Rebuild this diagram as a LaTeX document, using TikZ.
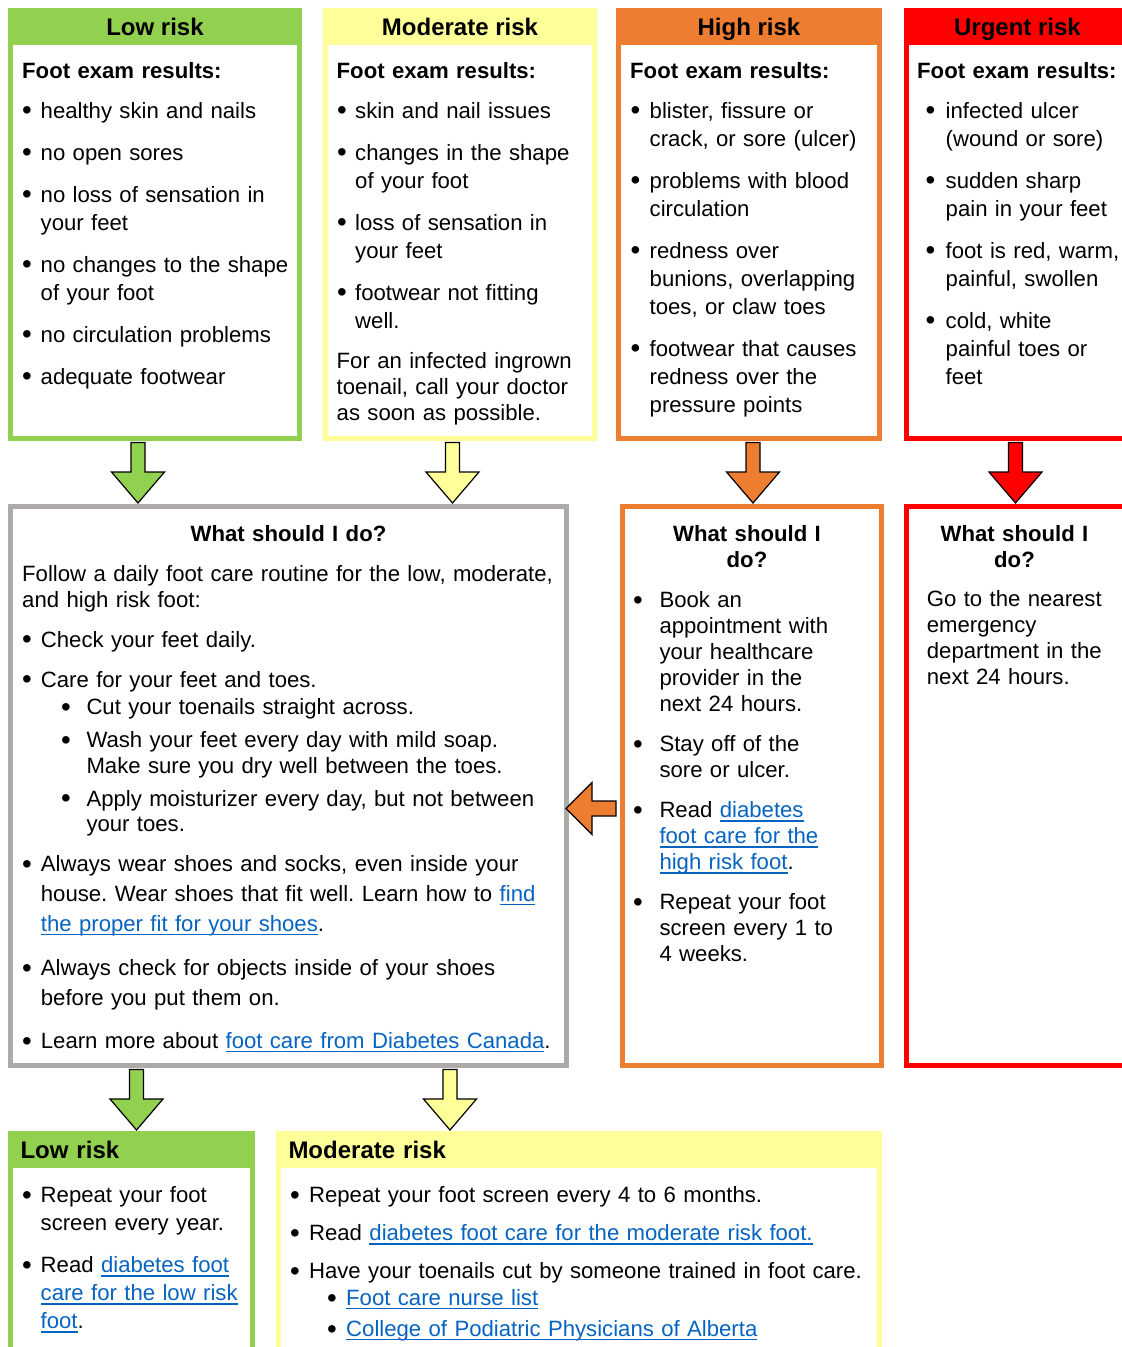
\documentclass[tikz,border=0pt]{standalone}
\usepackage{fontspec}
\usepackage{graphicx}
\setmainfont{Liberation Sans}
\usetikzlibrary{calc}
\frenchspacing
\definecolor{lowgreen}{HTML}{92D050}
\definecolor{modyellow}{HTML}{FFFF99}
\definecolor{highorange}{HTML}{ED7D31}
\definecolor{urgred}{HTML}{FF0000}
\definecolor{greyline}{HTML}{AEAAAA}
\definecolor{linkblue}{HTML}{0563C1}
\newlength{\bulpos}
\newlength{\txtpos}
\newcommand{\setind}[2]{\setlength{\bulpos}{#1}\setlength{\txtpos}{#2}}
\newcommand{\bigdot}{\raisebox{-0.08em}{\scalebox{1.25}{\textbullet}}}
\newcommand{\bul}[1]{\noindent\hangindent=\txtpos\hangafter=1\hbox to\txtpos{\hskip\bulpos\bigdot\hfil}{\let\\\newline#1}\par}
\newcommand{\txtpar}[1]{\noindent{\let\\\newline#1}\par}
\newcommand{\lnk}[1]{\textcolor{linkblue}{\setbox0=\hbox{#1}\rlap{\rule[-4pt]{\wd0}{1.6pt}}\box0}}
\tikzset{
  riskbox/.style={draw=#1,line width=5pt,rectangle,inner sep=0pt,outer sep=2.5pt,anchor=north west},
  band/.style={fill=#1,rectangle,inner sep=0pt,outer sep=0pt,anchor=north west,minimum height=37pt,
    font=\fontsize{24}{28}\selectfont\bfseries,text height=17.2pt,text depth=0pt},
  body/.style={anchor=base west,inner sep=0pt,text width=700pt,align=left,
    font=\fontsize{22.15}{28}\selectfont,execute at begin node={\setlength{\parskip}{#1}}},
  body/.default=14pt,
  whathead/.style={anchor=base,inner sep=0pt,text width=240pt,align=center,
    font=\fontsize{22.15}{26}\selectfont\bfseries},
  blockdown/.style={fill=#1,draw=black,line width=1.2pt,to path={
    ($(\tikztostart)+(-7,1.5)$) -- ($(\tikztotarget)+(-7,-32)$) -- ($(\tikztotarget)+(-26.5,-32)$)
    -- ($(\tikztotarget)+(0,-1)$) -- ($(\tikztotarget)+(26.5,-32)$) -- ($(\tikztotarget)+(7,-32)$)
    -- ($(\tikztostart)+(7,1.5)$) -- cycle}},
  blockleft/.style={fill=#1,draw=black,line width=1.2pt,to path={
    ($(\tikztostart)+(-4,-7.5)$) -- ($(\tikztotarget)+(23,-7.5)$) -- ($(\tikztotarget)+(23,-26)$)
    -- ($(\tikztotarget)+(-3,0)$) -- ($(\tikztotarget)+(23,26)$) -- ($(\tikztotarget)+(23,7.5)$)
    -- ($(\tikztostart)+(-4,7.5)$) -- cycle}}
}
\begin{document}
\begin{tikzpicture}[x=1pt,y=-1pt]
    \useasboundingbox (0,0) rectangle (1122,1347);
    \clip (0,0) rectangle (1122,1347);
    \node[riskbox=lowgreen,minimum width=289pt,minimum height=428pt] (lowtop) at (8,8) {};
    \node[band=lowgreen,minimum width=294pt] (lowhead) at (lowtop.north west) {Low risk};
    \node[riskbox=modyellow,minimum width=269pt,minimum height=428pt] (modtop) at (323,8) {};
    \node[band=modyellow,minimum width=274pt] (modhead) at (modtop.north west) {Moderate risk};
    \node[riskbox=highorange,minimum width=261pt,minimum height=428pt] (hightop) at (616,8) {};
    \node[band=highorange,minimum width=266pt] (highhead) at (hightop.north west) {High risk};
    \node[riskbox=urgred,minimum width=222pt,minimum height=428pt] (urgtop) at (904,8) {};
    \node[band=urgred,minimum width=227pt] (urghead) at (urgtop.north west) {Urgent risk};
    \node[riskbox=greyline,minimum width=556pt,minimum height=559pt] (grey) at (8,504) {};
    \node[riskbox=highorange,minimum width=259pt,minimum height=559pt] (high2) at (620,504) {};
    \node[riskbox=urgred,minimum width=222pt,minimum height=559pt] (urg2) at (904,504) {};
    \node[riskbox=lowgreen,minimum width=242pt,minimum height=300pt] (low3) at (8,1131) {};
    \node[band=lowgreen,minimum width=247pt,text width=222pt,inner xsep=12.5pt,align=left] (low3head) at (low3.north west) {Low risk};
    \node[riskbox=modyellow,minimum width=601pt,minimum height=300pt] (mod3) at (276,1131) {};
    \node[band=modyellow,minimum width=606pt,text width=581pt,inner xsep=12.5pt,align=left] (mod3head) at (mod3.north west) {Moderate risk};

    \node[body] (lowtxt) at (22,78) {%
      \textbf{Foot exam results:}\par\vspace{-2pt}
      \setind{0pt}{18.5pt}%
      \bul{healthy skin and nails}
      \bul{no open sores}
      \bul{no loss of sensation in\\your feet}
      \bul{no changes to the shape\\of your foot}
      \bul{no circulation problems}
      \bul{adequate footwear}};
    \node[body] (modtxt) at (336.5,78) {%
      \textbf{Foot exam results:}\par\vspace{-2pt}
      \setind{0.5pt}{18.5pt}%
      \bul{skin and nail issues}
      \bul{changes in the shape\\of your foot}
      \bul{loss of sensation in\\your feet}
      \bul{footwear not fitting\\well.}
      {\fontsize{22.15}{26}\selectfont\txtpar{For an infected ingrown\\toenail, call your doctor\\as soon as possible.}}};
    \node[body] (hightxt) at (630,78) {%
      \textbf{Foot exam results:}\par\vspace{-2pt}
      \setind{0.5pt}{19.5pt}%
      \bul{blister, fissure or\\crack, or sore (ulcer)}
      \bul{problems with blood\\circulation}
      \bul{redness over\\bunions, overlapping\\toes, or claw toes}
      \bul{footwear that causes\\redness over the\\pressure points}};
    \node[body] (urgtxt) at (917,78) {%
      \textbf{Foot exam results:}\par\vspace{-2pt}
      \setind{8.5pt}{28.5pt}%
      \bul{infected ulcer\\(wound or sore)}
      \bul{sudden sharp\\pain in your feet}
      \bul{foot is red, warm,\\painful, swollen}
      \bul{cold, white\\painful toes or\\feet}};

    \node[whathead] (greyhead) at (288.5,541.7) {What should I do?};
    \node[body=14.5pt,font=\fontsize{22.15}{25.5}\selectfont] (greytxt) at (22,581.7) {%
      \txtpar{Follow a daily foot care routine for the low, moderate,\\and high risk foot:}
      \setind{0pt}{18.7pt}%
      \bul{Check your feet daily.}
      \bul{Care for your feet and toes.}
      \setind{39pt}{64.3pt}\setlength{\parskip}{7.5pt}\vspace{-5.5pt}
      \bul{Cut your toenails straight across.}
      \bul{Wash your feet every day with mild soap.\\Make sure you dry well between the toes.}
      \bul{Apply moisturizer every day, but not between\\your toes.}
      \setind{0pt}{18.7pt}\setlength{\parskip}{14.5pt}\vspace{-4.8pt}
      {\fontsize{22.15}{30}\selectfont
      \bul{Always wear shoes and socks, even inside your\\house. Wear shoes that fit well. Learn how to \lnk{find}\\\lnk{the proper fit for your shoes}.}
      \bul{Always check for objects inside of your shoes\\before you put them on.}}
      {\fontsize{22.15}{28}\selectfont\bul{Learn more about \lnk{foot care from Diabetes Canada}.}}};
    \node[whathead] (high2head) at (747,541.7) {What should I\\do?};
    \node[body,font=\fontsize{22.15}{26}\selectfont] (high2txt) at (632.8,607.7) {%
      \setind{0pt}{26.5pt}%
      \bul{Book an\\appointment with\\your healthcare\\provider in the\\next 24 hours.}
      \bul{Stay off of the\\sore or ulcer.}
      \bul{Read \lnk{diabetes}\\\lnk{foot care for the}\\\lnk{high risk foot}.}
      \bul{Repeat your foot\\screen every 1 to\\4 weeks.}};
    \node[whathead] (urg2head) at (1014.5,541.7) {What should I\\do?};
    \node[body,font=\fontsize{22.15}{26}\selectfont] (urg2txt) at (926.7,606.7) {%
      \txtpar{Go to the nearest\\emergency\\department in the\\next 24 hours.}};

    \node[body] (low3txt) at (22,1202.7) {%
      \setind{0pt}{18.5pt}%
      \bul{Repeat your foot\\screen every year.}
      \bul{Read \lnk{diabetes foot}\\\lnk{care for the low risk}\\\lnk{foot}.}};
    \node[body=12pt,font=\fontsize{22.15}{26}\selectfont] (mod3txt) at (290,1202.7) {%
      \setind{0pt}{18.9pt}%
      \bul{Repeat your foot screen every 4 to 6 months.}
      \bul{Read \lnk{diabetes foot care for the moderate risk foot.}}
      \bul{Have your toenails cut by someone trained in foot care.}
      \setind{37pt}{56pt}\vspace{-11.3pt}
      \bul{\lnk{Foot care nurse list}}
      \vspace{-7pt}
      \bul{\lnk{College of Podiatric Physicians of Alberta}}};

    \draw[blockdown=lowgreen] (lowtop.south -| 138,0) to (grey.north -| 138,0);
    \draw[blockdown=modyellow] (modtop.south -| 452.5,0) to (grey.north -| 452.5,0);
    \draw[blockdown=highorange] (hightop.south -| 753,0) to (high2.north -| 753,0);
    \draw[blockdown=urgred] (urgtop.south -| 1015.5,0) to (urg2.north -| 1015.5,0);
    \draw[blockleft=highorange] (high2.west |- 0,808.5) to (grey.east |- 0,808.5);
    \draw[blockdown=lowgreen] (grey.south -| 136.5,0) to (low3.north -| 136.5,0);
    \draw[blockdown=modyellow] (grey.south -| 450,0) to (mod3.north -| 450,0);
\end{tikzpicture}
\end{document}
